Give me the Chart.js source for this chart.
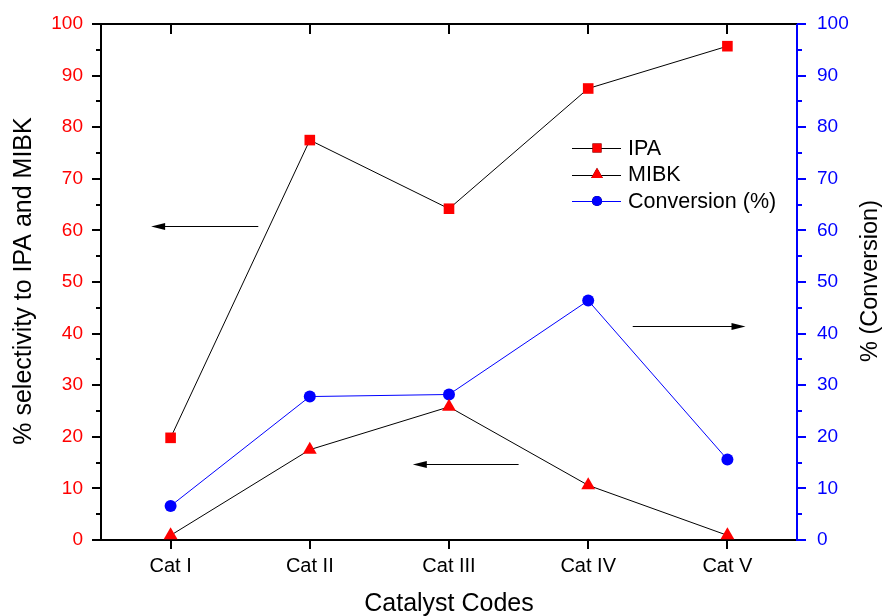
<!DOCTYPE html>
<html>
<head>
<meta charset="utf-8">
<script src="https://cdn.jsdelivr.net/npm/chart.js@4.4.0/dist/chart.umd.min.js"></script>
<style>
  body { margin: 0; background: #fff; }
</style>
</head>
<body>
<canvas id="myChart" width="884" height="616"></canvas>
<script>
var categories = ['Cat I', 'Cat II', 'Cat III', 'Cat IV', 'Cat V'];
var ipaValues = [19.8, 77.5, 64.2, 87.5, 95.7];
var mibkValues = [0.9, 17.5, 25.8, 10.6, 0.9];
var conversionValues = [6.6, 27.8, 28.2, 46.4, 15.6];

// annotation arrows, in axis units: category index from -> to, at y value
var arrowFrom = [0.63, 2.50, 3.32];
var arrowTo = [-0.14, 1.74, 4.13];
var arrowAt = [60.9, 14.7, 41.5];

var fontName = '"Liberation Sans", Arial, sans-serif';
var RED = '#ff0000';
var BLUE = '#0000ff';

function arrow(ctx, x1, x2, y) {
    var dir = x2 > x1 ? 1 : -1;
    ctx.beginPath();
    ctx.moveTo(x1, y);
    ctx.lineTo(x2 - dir * 10, y);
    ctx.stroke();
    ctx.beginPath();
    ctx.moveTo(x2, y);
    ctx.lineTo(x2 - dir * 14, y - 3.5);
    ctx.lineTo(x2 - dir * 14, y + 3.5);
    ctx.closePath();
    ctx.fill();
}

var framePlugin = {
    id: 'frame',
    beforeDatasetsDraw: function (chart) {
        var ctx = chart.ctx, a = chart.chartArea;
        var x = chart.scales.x, yl = chart.scales.y, yr = chart.scales.y2;
        ctx.save();
        ctx.lineWidth = 2;
        ctx.strokeStyle = '#000';
        ctx.beginPath();
        ctx.moveTo(a.right, a.top);
        ctx.lineTo(a.left, a.top);
        ctx.lineTo(a.left, a.bottom);
        ctx.lineTo(a.right, a.bottom);
        for (var v = 0; v <= 100; v += 5) {
            var len = v % 10 === 0 ? 9 : 5;
            var py = Math.round(yl.getPixelForValue(v));
            ctx.moveTo(a.left - len, py);
            ctx.lineTo(a.left, py);
        }
        categories.forEach(function (c, i) {
            var px = Math.round(x.getPixelForValue(i));
            ctx.moveTo(px, a.bottom);
            ctx.lineTo(px, a.bottom + 9);
            ctx.moveTo(px, a.top);
            ctx.lineTo(px, a.top + 10);
        });
        ctx.stroke();

        ctx.strokeStyle = BLUE;
        ctx.beginPath();
        ctx.moveTo(a.right, a.top);
        ctx.lineTo(a.right, a.bottom + 1);
        for (var w = 0; w <= 100; w += 5) {
            var l2 = w % 10 === 0 ? 9 : 5;
            var py2 = Math.round(yr.getPixelForValue(w));
            ctx.moveTo(a.right, py2);
            ctx.lineTo(a.right + l2, py2);
        }
        ctx.stroke();
        ctx.restore();
    },
    afterDraw: function (chart) {
        var ctx = chart.ctx, a = chart.chartArea;
        var x = chart.scales.x, yl = chart.scales.y;
        ctx.save();

        // arrows
        ctx.strokeStyle = '#000';
        ctx.fillStyle = '#000';
        ctx.lineWidth = 1;
        for (var k = 0; k < arrowAt.length; k++) {
            arrow(ctx, x.getPixelForValue(arrowFrom[k]), x.getPixelForValue(arrowTo[k]),
                Math.round(yl.getPixelForValue(arrowAt[k])) + 0.5);
        }

        // legend
        ctx.font = '21.5px ' + fontName;
        ctx.textBaseline = 'middle';
        chart.data.datasets.forEach(function (ds, i) {
            var ly = 148 + i * 26.5;
            ctx.strokeStyle = ds.borderColor;
            ctx.lineWidth = 1;
            ctx.beginPath();
            ctx.moveTo(572, Math.round(ly) + 0.5);
            ctx.lineTo(621, Math.round(ly) + 0.5);
            ctx.stroke();
            Chart.helpers.drawPoint(ctx, {
                pointStyle: ds.pointStyle,
                radius: ds.pointRadius * 0.85,
                rotation: 0,
                borderWidth: 0
            }, 597, ly);
            ctx.fillStyle = ds.pointBackgroundColor;
            ctx.fill();
            ctx.fillStyle = '#000';
            ctx.fillText(ds.label, 628, ly + 1);
        });

        // axis titles
        ctx.fillStyle = '#000';
        ctx.textAlign = 'center';
        ctx.font = '25px ' + fontName;
        ctx.fillText('Catalyst Codes', (a.left + a.right) / 2, 604);
        ctx.save();
        ctx.translate(24, 281);
        ctx.rotate(-Math.PI / 2);
        ctx.fillText('% selectivity to IPA and MIBK', 0, 0);
        ctx.restore();
        ctx.font = '23.5px ' + fontName;
        ctx.save();
        ctx.translate(871, 281);
        ctx.rotate(-Math.PI / 2);
        ctx.fillText('% (Conversion)', 0, 0);
        ctx.restore();

        ctx.restore();
    }
};

function fitY(width) {
    return function (scale) {
        scale.width = width;
        scale.paddingTop = 0;
        scale.paddingBottom = 0;
    };
}

var ctx = document.getElementById('myChart');
var myChart = new Chart(ctx, {
    type: 'line',
    data: {
        labels: categories,
        datasets: [{
            label: 'IPA',
            data: ipaValues,
            yAxisID: 'y',
            borderColor: '#000',
            borderWidth: 1,
            pointStyle: 'rect',
            pointRadius: 7.5,
            pointBackgroundColor: RED,
            pointBorderWidth: 0,
            clip: false
        }, {
            label: 'MIBK',
            data: mibkValues,
            yAxisID: 'y',
            borderColor: '#000',
            borderWidth: 1,
            pointStyle: 'triangle',
            pointRadius: 8,
            pointBackgroundColor: RED,
            pointBorderWidth: 0,
            clip: false
        }, {
            label: 'Conversion (%)',
            data: conversionValues,
            yAxisID: 'y2',
            borderColor: BLUE,
            borderWidth: 1,
            pointStyle: 'circle',
            pointRadius: 6,
            pointBackgroundColor: BLUE,
            pointBorderWidth: 0,
            clip: false
        }]
    },
    options: {
        responsive: false,
        animation: false,
        layout: { padding: { top: 24, left: 0, right: 0, bottom: 0 } },
        plugins: {
            legend: { display: false },
            tooltip: { enabled: false }
        },
        scales: {
            x: {
                offset: true,
                grid: { display: false, drawTicks: false },
                border: { display: false },
                ticks: { color: '#000', font: { family: fontName, size: 20 }, padding: 14, maxRotation: 0 },
                afterFit: function (scale) {
                    scale.height = 76;
                    scale.paddingLeft = 0;
                    scale.paddingRight = 0;
                }
            },
            y: {
                position: 'left',
                min: 0,
                max: 100,
                grid: { display: false, drawTicks: false },
                border: { display: false },
                ticks: { stepSize: 10, color: RED, font: { family: fontName, size: 19 }, padding: 18 },
                afterFit: fitY(101)
            },
            y2: {
                position: 'right',
                min: 0,
                max: 100,
                grid: { display: false, drawTicks: false },
                border: { display: false },
                ticks: { stepSize: 10, color: BLUE, font: { family: fontName, size: 19 }, padding: 20 },
                afterFit: fitY(87)
            }
        }
    },
    plugins: [framePlugin]
});
</script>
</body>
</html>
